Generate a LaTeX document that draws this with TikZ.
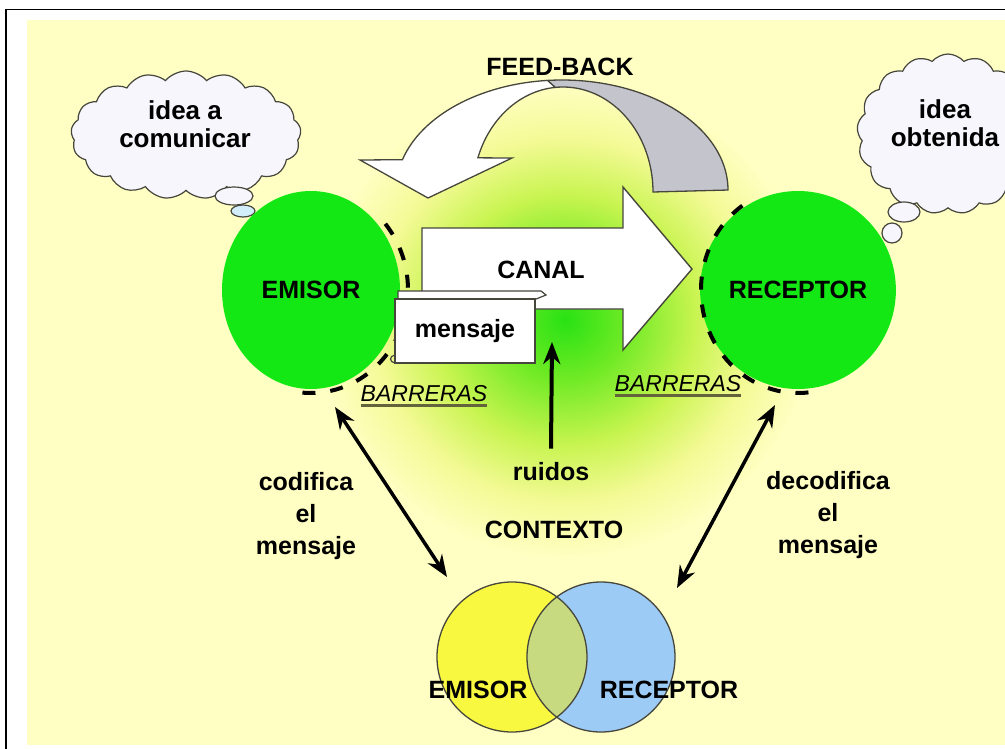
\documentclass[tikz,border=0pt]{standalone}
\usepackage{fontspec}
\setmainfont{Liberation Sans}
\usetikzlibrary{arrows.meta,shapes.symbols,shapes.geometric}

\definecolor{paper}{RGB}{255,255,196}
\definecolor{glowA}{RGB}{40,226,20}
\definecolor{glowB}{RGB}{110,234,36}
\definecolor{glowC}{RGB}{200,244,80}
\definecolor{glowD}{RGB}{244,250,150}
\definecolor{disc}{RGB}{20,232,20}
\definecolor{fbgray}{RGB}{196,196,204}
\definecolor{outline}{RGB}{70,70,60}
\definecolor{cloudfill}{RGB}{246,246,252}
\definecolor{bubbleblue}{RGB}{210,238,250}
\definecolor{vyellow}{RGB}{248,248,64}
\definecolor{vblue}{RGB}{156,204,246}
\definecolor{vlens}{RGB}{200,218,128}
\definecolor{ulcolor}{RGB}{100,100,60}

% soft halo behind the channel: green core fading through yellow into the paper tone
\pgfdeclareradialshading{contextglow}{\pgfpoint{0bp}{0bp}}{%
  color(0bp)=(glowA); color(6bp)=(glowB); color(13bp)=(glowC);
  color(19bp)=(glowD); color(25bp)=(paper); color(50bp)=(paper)}

\begin{document}
\begin{tikzpicture}[x=1pt,y=-1pt,
  lbl/.style={font=\fontsize{25}{32}\selectfont\bfseries, inner sep=0pt, align=center},
  thought/.style={font=\fontsize{26}{28}\selectfont\bfseries, inner sep=0pt, align=center},
  barlbl/.style={font=\fontsize{23}{28}\selectfont\itshape, inner sep=0pt},
  discnode/.style={ellipse, fill=disc, minimum width=178pt, minimum height=198pt,
    inner sep=0pt, font=\fontsize{25}{30}\selectfont\bfseries},
  barrier/.style={line width=4pt, dash pattern=on 13pt off 15pt},
  cloudbox/.style={cloud, cloud puffs=17, cloud puff arc=100, cloud ignores aspect,
    draw=outline, fill=cloudfill, line width=1.2pt},
  bubble/.style={draw=outline, fill=cloudfill, line width=1.2pt},
  shapeline/.style={draw=outline, line width=1.3pt},
  twoway/.style={line width=3.5pt, {Stealth[length=22pt,width=17pt]}-{Stealth[length=22pt,width=17pt]}},
  oneway/.style={line width=4pt, -{Stealth[length=22pt,width=17pt]}}]

\useasboundingbox (0,0) rectangle (1005,748);
\clip (0,0) rectangle (1005,748);

% page, frame and paper
\fill[white] (0,0) rectangle (1005,748);
\draw[line width=1.6pt] (6,760) -- (6,9.5) -- (1020,9.5);
\fill[paper] (27,20) rectangle (1010,745);

% context halo
\path[shading=contextglow] (565,320) ellipse [x radius=250, y radius=240];

% feed-back arrow: grey rising half, white returning half with its head
\coordinate (fbo) at (562,190);
\coordinate (fbi) at (563,192);
\filldraw[shapeline, fill=fbgray]
  ([shift={(265:166 and 110)}]fbo) arc[start angle=265, end angle=360, x radius=166, y radius=110]
  -- ([shift={(0:90 and 105)}]fbi) arc[start angle=360, end angle=265, x radius=90, y radius=105]
  -- cycle;
\filldraw[shapeline, fill=white]
  ([shift={(265:166 and 110)}]fbo) arc[start angle=265, end angle=196, x radius=166, y radius=110]
  -- (360,160) -- (428,198) -- (512,158)
  -- ([shift={(199:90 and 105)}]fbi) arc[start angle=199, end angle=265, x radius=90, y radius=105]
  -- cycle;
\node[lbl] (fb) at (560,67) {FEED-BACK};

% thought clouds
\node[cloudbox, minimum width=230pt, minimum height=128pt] (cloudL) at (186,135) {};
\filldraw[bubble] (234,196) ellipse [x radius=19, y radius=9];
\filldraw[bubble, fill=bubbleblue] (243,211) ellipse [x radius=12, y radius=6];
\node[thought] (ideaL) at (185,124) {idea a\\comunicar};

\node[cloudbox, minimum width=182pt, minimum height=160pt] (cloudR) at (948,134) {};
\filldraw[bubble] (904,212) ellipse [x radius=16, y radius=10];
\filldraw[bubble] (892,233) ellipse [x radius=10, y radius=10];
\node[thought] (ideaR) at (945,123) {idea\\obtenida};

% channel arrow
\filldraw[shapeline, fill=white, line width=1.4pt]
  (422,228) -- (623,228) -- (623,187) -- (692,269) -- (623,350) -- (623,309) -- (422,309) -- cycle;
\node[lbl] (canal) at (541,270) {CANAL};

% sender and receiver
\node[discnode] (emisor) at (311,290) {EMISOR};
\node[discnode] (receptor) at (798,290) {RECEPTOR};

% barriers
\draw[barrier] ([shift={(-40:97 and 103)}]emisor.center)
  arc[start angle=-40, end angle=100, x radius=97, y radius=103];
\draw[barrier] ([shift={(235:97 and 103)}]receptor.center)
  arc[start angle=235, end angle=83, x radius=97, y radius=103];
\node[barlbl] (barL) at (424,394) {BARRERAS};
\draw[ulcolor, line width=3pt] ([yshift=-3pt]barL.south west) -- ([yshift=-3pt]barL.south east);
\node[barlbl] (barR) at (678,384) {BARRERAS};
\draw[ulcolor, line width=3pt] ([yshift=-3pt]barR.south west) -- ([yshift=-3pt]barR.south east);

% message note
\filldraw[shapeline, fill=white, line width=1.2pt]
  (398,299) -- (398,291) -- (541,291) -- (546,295) -- (536,299) -- cycle;
\filldraw[shapeline, fill=white, line width=1.2pt] (395,299) rectangle (535,363);
\draw[shapeline, line width=1.2pt] (395,355) .. controls (389,356) and (389,362) .. (395,363);
\node[lbl] (msg) at (465,331) {mensaje};

% noise
\node[lbl] (ruidos) at (551,472) {ruidos};
\coordinate (noise) at (552,342);
\draw[oneway] ([yshift=14pt]ruidos.north) -- (noise);

\node[lbl] (contexto) at (554,530) {CONTEXTO};

% encoding / decoding
\node[lbl] (cod) at (306,516) {codifica\\el\\mensaje};
\node[lbl] (dec) at (828,515) {decodifica\\el\\mensaje};

% shared field of experience
\coordinate (vy) at (512,657);
\coordinate (vb) at (601,657);
\fill[vyellow] (vy) ellipse [x radius=75, y radius=75];
\fill[vblue] (vb) ellipse [x radius=74, y radius=75];
\begin{scope}
  \clip (vy) ellipse [x radius=75, y radius=75];
  \fill[vlens] (vb) ellipse [x radius=74, y radius=75];
\end{scope}
\draw[outline, line width=1.3pt] (vy) ellipse [x radius=75, y radius=75];
\draw[outline, line width=1.3pt] (vb) ellipse [x radius=74, y radius=75];
\node[lbl] (vEmisor) at (478,690) {EMISOR};
\node[lbl] (vReceptor) at (669,690) {RECEPTOR};

\coordinate (encTop) at (335,407);
\coordinate (encBot) at (447,577);
\coordinate (decTop) at (775,405);
\coordinate (decBot) at (677,588);
\draw[twoway] (encTop) -- (encBot);
\draw[twoway] (decTop) -- (decBot);

\end{tikzpicture}
\end{document}
